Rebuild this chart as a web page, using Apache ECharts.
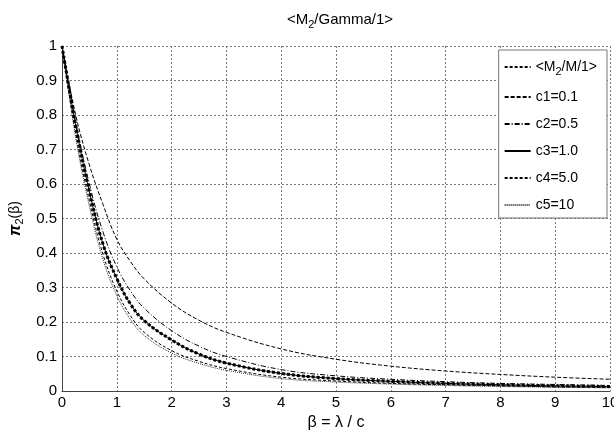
<!DOCTYPE html>
<html>
<head>
<meta charset="utf-8">
<script src="https://cdn.jsdelivr.net/npm/echarts@6/dist/echarts.min.js"></script>
<style>
  html, body { margin: 0; padding: 0; background: #fff; }
  #chart { width: 614px; height: 431px; }
</style>
</head>
<body>
<div id="chart"></div>
<script>
// beta values (x)
var betas = [0, 0.25, 0.5, 0.75, 1, 1.25, 1.5, 2, 2.5, 3, 4, 5, 6, 7, 8, 9, 10];

// pi_2(beta)
var m2m1 = [1, 0.77, 0.578, 0.425, 0.326, 0.252, 0.204, 0.148, 0.107, 0.081, 0.051, 0.036, 0.028, 0.022, 0.018, 0.015, 0.013];
var c1 = [1, 0.8, 0.655, 0.54, 0.44, 0.375, 0.325, 0.255, 0.205, 0.17, 0.122, 0.092, 0.072, 0.058, 0.048, 0.04, 0.034];
var c2 = [1, 0.78, 0.6, 0.46, 0.36, 0.29, 0.24, 0.175, 0.13, 0.1, 0.062, 0.044, 0.034, 0.027, 0.022, 0.019, 0.016];
var c3 = [1, 0.77, 0.578, 0.425, 0.326, 0.252, 0.204, 0.148, 0.107, 0.081, 0.051, 0.036, 0.028, 0.022, 0.018, 0.015, 0.013];
var c4 = [1, 0.745, 0.55, 0.395, 0.29, 0.218, 0.17, 0.117, 0.086, 0.065, 0.04, 0.029, 0.022, 0.018, 0.015, 0.012, 0.011];
var c5 = [1, 0.735, 0.535, 0.38, 0.277, 0.207, 0.161, 0.11, 0.08, 0.06, 0.036, 0.026, 0.02, 0.016, 0.013, 0.011, 0.009];

var names = ['<M2/M/1>', 'c1=0.1', 'c2=0.5', 'c3=1.0', 'c4=5.0', 'c5=10'];

function pairs(ys) {
  return betas.map(function (b, i) { return [b, ys[i]]; });
}

var font = 'Liberation Sans, Arial, sans-serif';
var sub = { fontFamily: font, fontSize: 11, verticalAlign: 'bottom', padding: [9, 0, 0, 0], color: '#000' };

var myChart = echarts.init(document.getElementById('chart'));

function line(name, ys, width, type, color, z) {
  return {
    name: name,
    type: 'line',
    data: pairs(ys),
    smooth: 0.4,
    showSymbol: false,
    symbol: 'none',
    z: z,
    lineStyle: { color: color, width: width, type: type },
    itemStyle: { color: color }
  };
}

myChart.setOption({
  animation: false,
  backgroundColor: '#fff',
  title: {
    text: '<M{s|2}/Gamma/1>',
    left: 335,
    textAlign: 'center',
    top: 5,
    textStyle: {
      fontFamily: font, fontSize: 15, fontWeight: 'normal', color: '#000',
      rich: { s: sub }
    }
  },
  grid: { left: 62, right: 4, top: 46, bottom: 40, outerBoundsMode: 'none', containLabel: false },
  legend: {
    orient: 'vertical',
    right: 7,
    top: 50,
    data: names,
    itemWidth: 26,
    itemHeight: 12,
    itemGap: 13,
    padding: [10, 10, 6, 5],
    backgroundColor: '#fff',
    borderColor: '#777',
    borderWidth: 1,
    itemStyle: { opacity: 0 },
    formatter: function (n) {
      return n === '<M2/M/1>' ? '<M{s|2}/M/1>' : n;
    },
    textStyle: {
      fontFamily: font, fontSize: 14, color: '#000',
      rich: { s: sub }
    }
  },
  xAxis: {
    type: 'value',
    min: 0, max: 10, interval: 1,
    name: 'β = λ / c',
    nameLocation: 'middle',
    nameGap: 19,
    nameTextStyle: { fontFamily: font, fontSize: 16, color: '#000' },
    axisLine: { show: true, onZero: false, lineStyle: { color: '#444', width: 1 } },
    axisTick: { show: false },
    axisLabel: { fontFamily: font, fontSize: 15, color: '#000', margin: 4 },
    splitLine: { show: true, lineStyle: { color: '#777', type: [2, 2], width: 1 } }
  },
  yAxis: {
    type: 'value',
    min: 0, max: 1, interval: 0.1,
    name: '{p|π}{s|2}(β)',
    nameLocation: 'middle',
    nameGap: 30,
    nameRotate: 90,
    nameTextStyle: {
      fontFamily: font, fontSize: 14, color: '#000',
      rich: {
        p: { fontFamily: font, fontSize: 16, fontWeight: 'bold', fontStyle: 'italic', color: '#000' },
        s: sub
      }
    },
    axisLine: { show: true, lineStyle: { color: '#444', width: 1 } },
    axisTick: { show: false },
    axisLabel: { fontFamily: font, fontSize: 15, color: '#000', margin: 5 },
    splitLine: { show: true, lineStyle: { color: '#777', type: [2, 2], width: 1 } }
  },
  series: [
    line(names[0], m2m1, 3, [3, 2], '#000', 6),
    line(names[1], c1, 1, [4, 2], '#000', 2),
    line(names[2], c2, 1, [5, 2, 1, 2], '#000', 2),
    line(names[3], c3, 1, 'solid', '#000', 3),
    line(names[4], c4, 1, [3, 2], '#000', 2),
    line(names[5], c5, 1, [1, 1], '#333', 2)
  ]
});

window.onresize = function () {
  myChart.resize();
};
</script>
</body>
</html>
